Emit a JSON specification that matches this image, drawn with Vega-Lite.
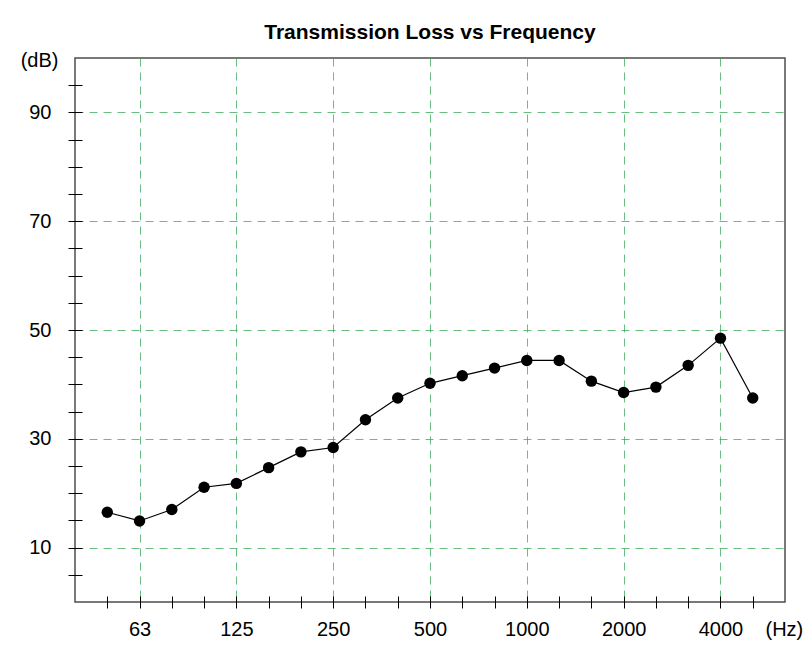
{
  "$schema": "https://vega.github.io/schema/vega-lite/v6.json",
  "autosize": {"type": "none"},
  "padding": {"left": 75, "top": 58, "right": 27, "bottom": 54},
  "width": 710,
  "height": 544,
  "background": "white",
  "title": {
    "text": "Transmission Loss vs Frequency",
    "font": "Liberation Sans",
    "fontSize": 21,
    "fontWeight": "bold",
    "color": "black",
    "anchor": "middle",
    "frame": "group",
    "baseline": "alphabetic",
    "offset": -10
  },
  "data": {
    "values": [
      {"freq": "50", "tl": 16.5},
      {"freq": "63", "tl": 14.9},
      {"freq": "80", "tl": 17.0},
      {"freq": "100", "tl": 21.1},
      {"freq": "125", "tl": 21.8},
      {"freq": "160", "tl": 24.7},
      {"freq": "200", "tl": 27.6},
      {"freq": "250", "tl": 28.4},
      {"freq": "315", "tl": 33.5},
      {"freq": "400", "tl": 37.5},
      {"freq": "500", "tl": 40.2},
      {"freq": "630", "tl": 41.6},
      {"freq": "800", "tl": 43.0},
      {"freq": "1000", "tl": 44.4},
      {"freq": "1250", "tl": 44.4},
      {"freq": "1600", "tl": 40.6},
      {"freq": "2000", "tl": 38.5},
      {"freq": "2500", "tl": 39.5},
      {"freq": "3150", "tl": 43.5},
      {"freq": "4000", "tl": 48.5},
      {"freq": "5000", "tl": 37.5}
    ]
  },
  "encoding": {
    "x": {
      "field": "freq",
      "type": "ordinal",
      "sort": null,
      "scale": {"type": "point", "padding": 1},
      "axis": {
        "title": "(Hz)",
        "titleFont": "Liberation Sans",
        "titleFontSize": 20,
        "titleFontWeight": "normal",
        "titleColor": "black",
        "titleAlign": "left",
        "titleBaseline": "middle",
        "titleX": 690,
        "titleY": 33,
        "labelAngle": 0,
        "labelFont": "Liberation Sans",
        "labelFontSize": 20,
        "labelColor": "black",
        "labelPadding": 11,
        "labelExpr": "indexof(['63','125','250','500','1000','2000','4000'], datum.label) >= 0 ? datum.label : ''",
        "domain": false,
        "offset": -6,
        "tickSize": 12,
        "tickColor": "black",
        "tickWidth": 1,
        "grid": true,
        "gridColor": "#34a856",
        "gridDash": [8, 6],
        "gridWidth": 1,
        "gridOpacity": {
          "condition": {"test": "indexof(['63','125','250','500','1000','2000','4000'], datum.value) >= 0", "value": 0.75},
          "value": 0
        }
      }
    },
    "y": {
      "field": "tl",
      "type": "quantitative",
      "scale": {"domain": [0, 100], "nice": false, "zero": false},
      "axis": {
        "title": "(dB)",
        "titleFont": "Liberation Sans",
        "titleFontSize": 20,
        "titleFontWeight": "normal",
        "titleColor": "black",
        "titleAngle": 0,
        "titleAlign": "right",
        "titleBaseline": "middle",
        "titleX": -24,
        "titleY": 2,
        "values": [5, 10, 15, 20, 25, 30, 35, 40, 45, 50, 55, 60, 65, 70, 75, 80, 85, 90, 95],
        "labelExpr": "datum.value % 20 == 10 ? datum.label : ''",
        "labelFont": "Liberation Sans",
        "labelFontSize": 20,
        "labelColor": "black",
        "labelPadding": 17,
        "domain": false,
        "offset": -7,
        "tickSize": 14,
        "tickColor": "black",
        "tickWidth": 1,
        "grid": true,
        "gridColor": "#34a856",
        "gridDash": [8, 6],
        "gridWidth": 1,
        "gridOpacity": {
          "condition": {"test": "datum.value % 20 == 10", "value": 0.75},
          "value": 0
        }
      }
    }
  },
  "layer": [
    {"mark": {"type": "line", "color": "black", "strokeWidth": 1.2}},
    {"mark": {"type": "point", "filled": true, "color": "black", "opacity": 1, "size": 130}}
  ],
  "config": {
    "view": {"stroke": "#4d4d4d", "strokeWidth": 1.5}
  }
}
